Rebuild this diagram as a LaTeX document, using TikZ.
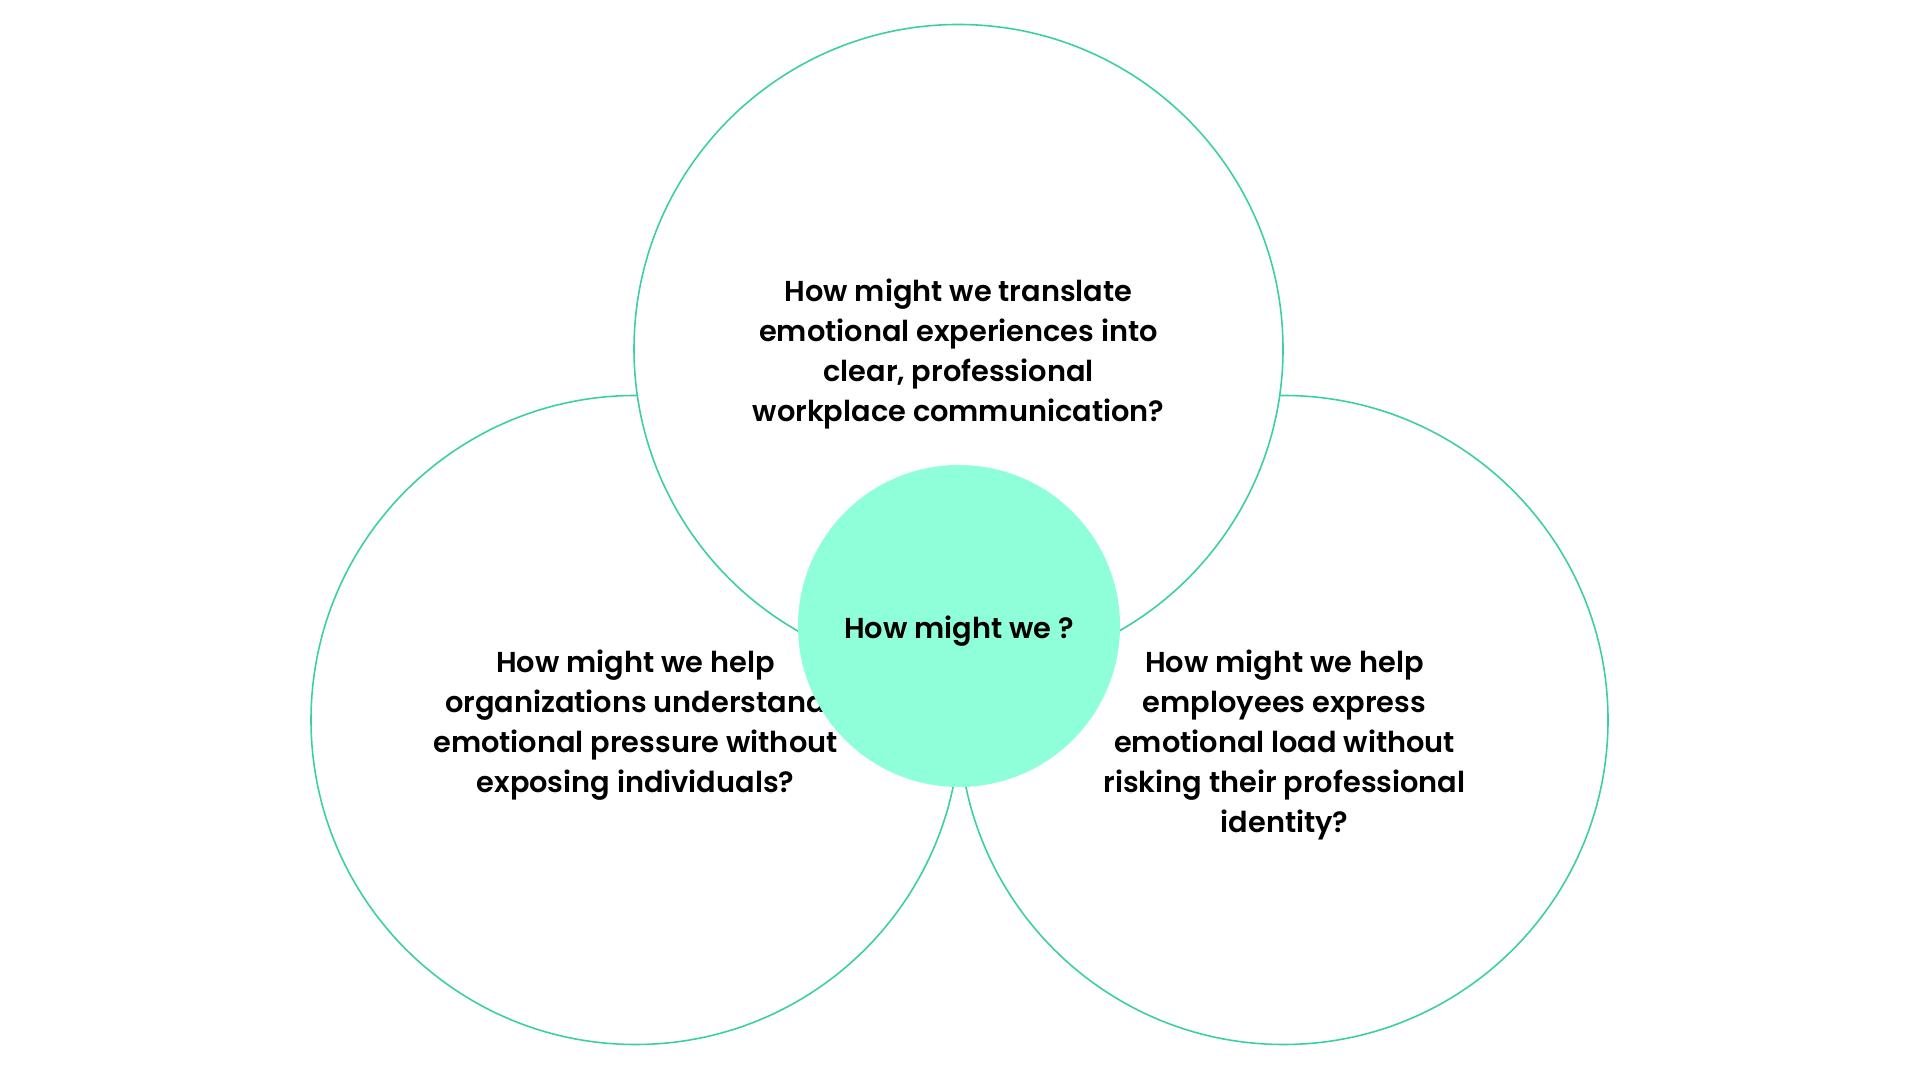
\documentclass[tikz,border=0pt]{standalone}
\usepackage{fontspec}
\newfontfamily\hmwfont{Poppins SemiBold}
\definecolor{ringline}{RGB}{60,206,165}
\definecolor{mint}{RGB}{142,255,217}

\begin{document}
\begin{tikzpicture}[
    ring/.style={circle, draw=ringline, line width=0.45pt, fill=white, inner sep=0pt, minimum size=6.49cm},
    hmw/.style={align=center, font=\hmwfont\fontsize{8.2}{11.4}\selectfont}
  ]
  \fill[white] (0,0) rectangle (19.2,10.8);
  \useasboundingbox (0,0) rectangle (19.2,10.8);

  \node[ring] (left) at (6.355, 3.60) {};
  \node[ring] (right) at (12.835, 3.60) {};
  \node[ring] (top) at (9.585, 7.31) {};

  \node[hmw] (toptext) at (9.585, 7.26) {How might we translate\\emotional experiences into\\clear, professional\\workplace communication?};
  \node[hmw] (lefttext) at (6.355, 3.545) {How might we help\\organizations understand\\emotional pressure without\\exposing individuals?};
  \node[hmw, anchor=north] (righttext) at (12.845, 4.425) {How might we help\\employees express\\emotional load without\\risking their professional\\identity?};

  \node[circle, fill=mint, inner sep=0pt, minimum size=3.22cm] (hub) at (9.59, 4.54) {};
  \node[hmw] (hubtext) at (9.59, 4.49) {How might we ?};
\end{tikzpicture}
\end{document}
